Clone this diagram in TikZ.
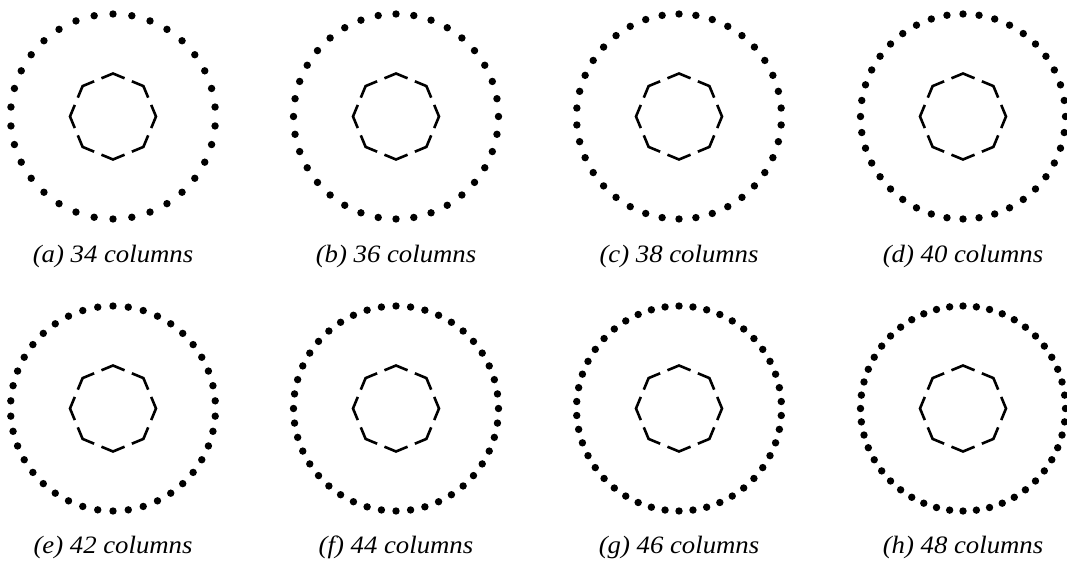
\documentclass[tikz,border=0pt]{standalone}
\usepackage{fontspec}
\setmainfont{Liberation Serif}
\begin{document}
\begin{tikzpicture}[x=1pt,y=1pt,
  dotc/.style={fill=black},
  octo/.style={line width=2.6pt,line join=miter},
  caption/.style={font=\fontsize{25}{28}\selectfont\itshape,anchor=base,inner sep=0pt,xscale=1.07}]
\useasboundingbox (0,0) rectangle (1067,565);
\newcommand\colring[6]{%
  \coordinate (#4) at (#1,#2);
  \foreach \i in {1,...,#3}
    \fill[dotc] (#4) ++({90+(360/#3)*(\i-1)}:102.5) circle (3.7);
  \foreach \k in {0,...,7}{
    \pgfmathsetmacro\a{45*\k}
    \draw[octo] (#4) ++(\a:43) ++(\a-112.5:12.5) -- ++(\a+67.5:12.5) -- ++(\a+112.5:12.5);
  }
  \node[caption] (#4-cap) at (#1,#5) {(#6) #3 columns};
}
\colring{113}{448.5}{34}{ra}{302.5}{a}
\colring{396}{448.5}{36}{rb}{302.5}{b}
\colring{679}{448.5}{38}{rc}{302.5}{c}
\colring{963}{448.5}{40}{rd}{302.5}{d}
\colring{113}{156.5}{42}{re}{12}{e}
\colring{396}{156.5}{44}{rf}{12}{f}
\colring{679}{156.5}{46}{rg}{12}{g}
\colring{963}{156.5}{48}{rh}{12}{h}
\end{tikzpicture}
\end{document}
